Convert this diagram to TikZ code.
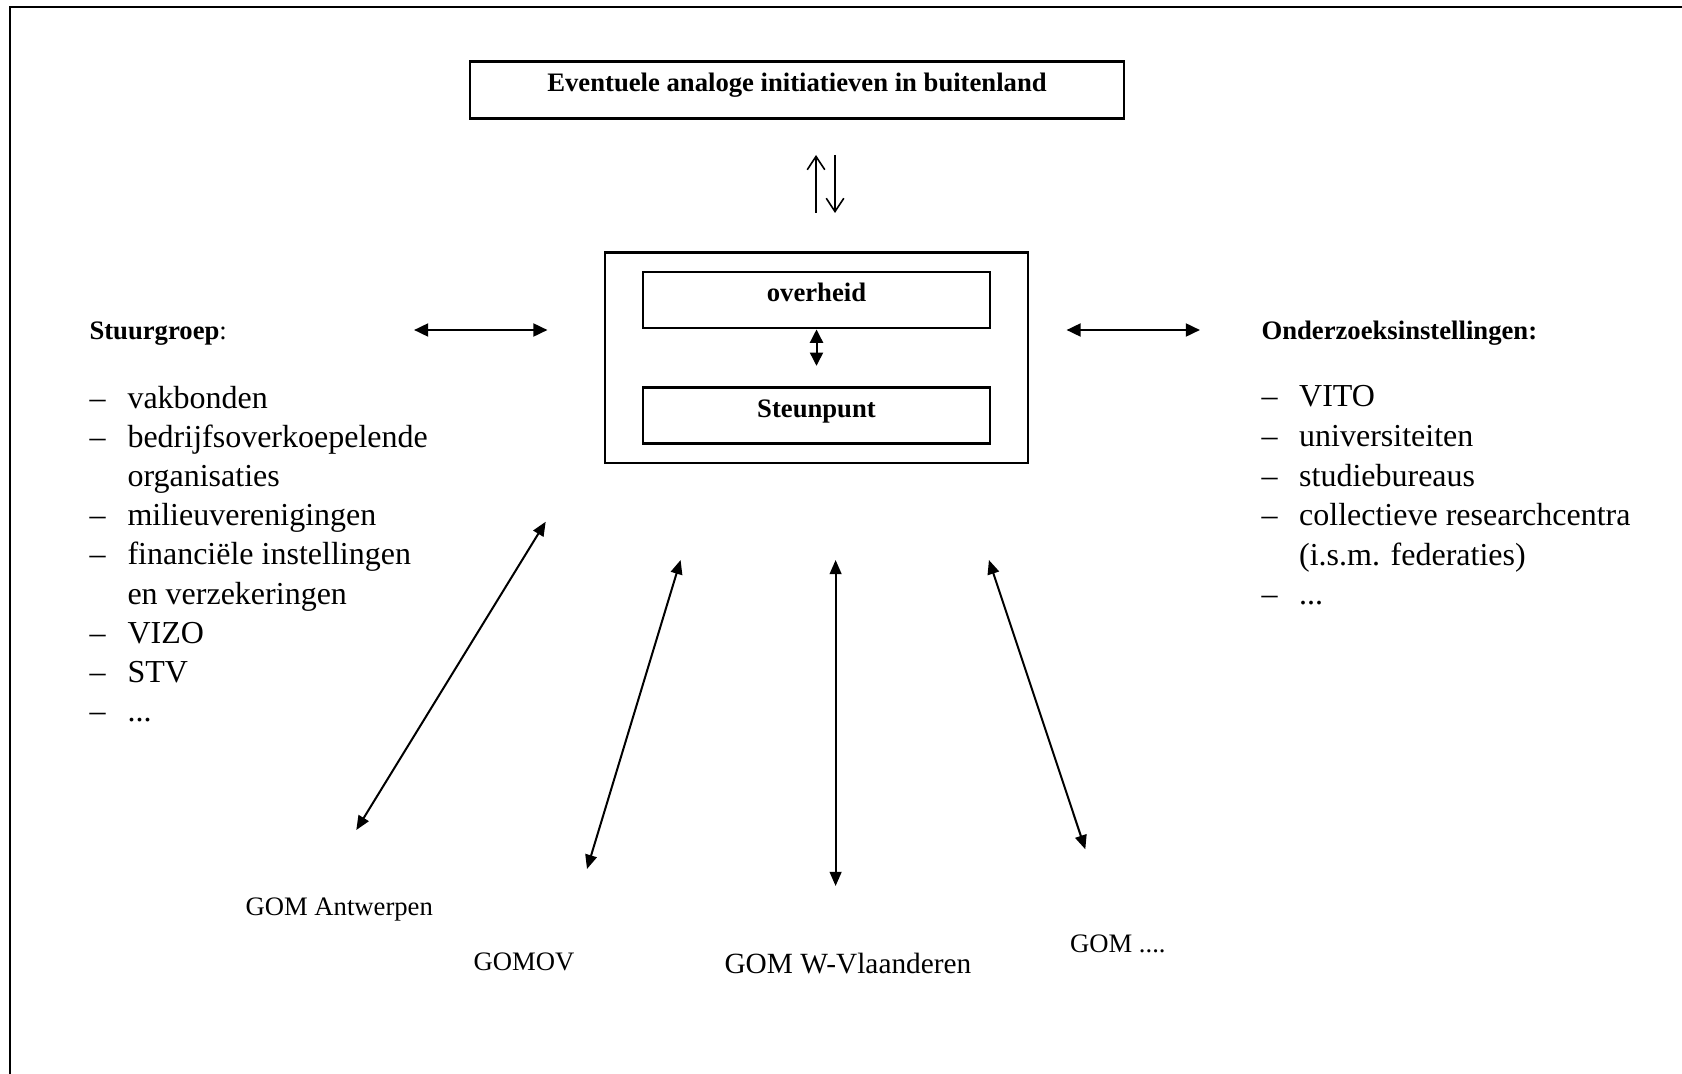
\documentclass[tikz,border=0pt]{standalone}
\usepackage{fontspec}
\setmainfont{Liberation Serif}
\usetikzlibrary{arrows.meta,calc}
\newcommand\itmL{\makebox[14.25pt][l]{–}}
\newcommand\itmR{\makebox[14.1pt][l]{–}}
\begin{document}
\begin{tikzpicture}[x=0.375pt,y=-0.375pt,
  box/.style={draw, line width=1pt, inner sep=0pt, text height=8.2pt, text depth=6.8pt,
    font=\bfseries\fontsize{10}{12}\selectfont},
  frame/.style={draw, line width=1pt, inner sep=0pt},
  head/.style={font=\bfseries\fontsize{10}{12}\selectfont, inner sep=0pt, anchor=base west},
  lst/.style={inner sep=0pt, anchor=base west},
  gom/.style={font=\fontsize{10}{12}\selectfont, inner sep=0pt, anchor=base west},
  dblarr/.style={line width=0.75pt, {Triangle[length=5.3pt,width=4.4pt]}-{Triangle[length=5.3pt,width=4.4pt]}},
  hdblarr/.style={line width=0.95pt, {Triangle[length=5.3pt,width=4.8pt]}-{Triangle[length=5.3pt,width=4.8pt]}},
  thinarr/.style={line width=0.6pt, -{Straight Barb[length=5pt,width=6.6pt,line width=0.6pt]}}
]
\useasboundingbox (0,0) rectangle (1682,1073);
% outer frame (only top and left edges are visible)
\draw[line width=1pt] (10,1080) -- (10,7) -- (1690,7);

% top box
\node[box, minimum width=245.25pt, minimum height=21.2pt] (top) at (797,90)
  {Eventuele analoge initiatieven in buitenland};

% central boxes
\node[frame, minimum width=158.6pt, minimum height=78.9pt] (center) at (816.5,357.9) {};
\node[box, minimum width=130.1pt, minimum height=21.1pt] (overheid) at (816.5,300) {overheid};
\node[box, minimum width=130.1pt, minimum height=21.1pt] (steunpunt) at (816.5,415.3) {Steunpunt};

\draw[line width=0.75pt, {Triangle[length=5pt,width=4.9pt]}-{Triangle[length=5pt,width=4.9pt]}]
  (overheid.south) -- ($(steunpunt.north)+(0,-20)$);

% headings
\node[head] (stuur) at (89,339) {Stuurgroep\mdseries:};
\node[head] (onderzoek) at (1261,339) {Onderzoeksinstellingen:};

% lists
\node[lst, font=\fontsize{12}{14.7}\selectfont] (stlist) at (89,408) {%
\begin{tabular}[t]{@{}l@{}l@{}}
\itmL & vakbonden\\
\itmL & bedrijfsoverkoepelende\\
      & organisaties\\
\itmL & milieuverenigingen\\
\itmL & financiële instellingen\\
      & en verzekeringen\\
\itmL & VIZO\\
\itmL & STV\\
\itmL & ...
\end{tabular}};
\node[lst, font=\fontsize{12}{14.87}\selectfont] (onlist) at (1261,406.7) {%
\begin{tabular}[t]{@{}l@{}l@{}}
\itmR & VITO\\
\itmR & universiteiten\\
\itmR & studiebureaus\\
\itmR & collectieve researchcentra\\
      & (i.s.m. federaties)\\
\itmR & ...
\end{tabular}};

% GOM labels
\node[gom] (gomA) at (245,915) {GOM Antwerpen};
\node[gom] (gomov) at (473,970) {GOMOV};
\node[gom, font=\fontsize{11}{13}\selectfont] (gomW) at (724,973.5) {GOM W-Vlaanderen};
\node[gom] (gomX) at (1069.5,952) {GOM ....};

% arrow end points
\coordinate (u1) at (816,213);   \coordinate (u2) at (816,155);
\coordinate (d1) at (835,155);   \coordinate (d2) at (835,213);
\coordinate (hl1) at (414,330);  \coordinate (hl2) at (547.5,330);
\coordinate (hr1) at (1066.5,330); \coordinate (hr2) at (1200,330);
\coordinate (a1t) at (545.7,521.7); \coordinate (a1b) at (356.3,830);
\coordinate (a2t) at (680.6,560);   \coordinate (a2b) at (587,869);
\coordinate (a3t) at (835.6,560);   \coordinate (a3b) at (835.6,886);
\coordinate (a4t) at (988.9,560);   \coordinate (a4b) at (1085.3,849.3);

% connectors
\draw[thinarr] (u1) -- (u2);
\draw[thinarr] (d1) -- (d2);
\draw[hdblarr] (hl1) -- (hl2);
\draw[hdblarr] (hr1) -- (hr2);
\draw[dblarr] (a1t) -- (a1b);
\draw[dblarr] (a2t) -- (a2b);
\draw[dblarr] (a3t) -- (a3b);
\draw[dblarr] (a4t) -- (a4b);
\end{tikzpicture}
\end{document}
